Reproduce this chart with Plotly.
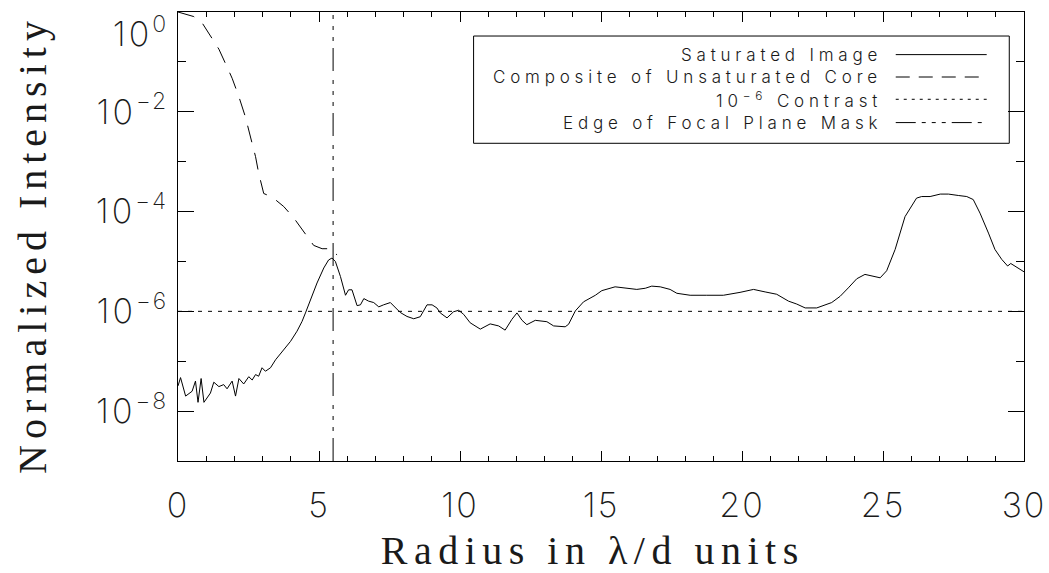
import plotly.graph_objects as go

# ---------------- data ----------------
sat_x = [0.00, 0.09, 0.27, 0.50, 0.62, 0.71, 0.82, 0.92, 1.15, 1.27, 1.45, 1.62, 1.74, 1.92,
         2.04, 2.16, 2.33, 2.51, 2.63, 2.75, 2.86, 2.98, 3.10, 3.28, 3.46, 3.75, 3.99, 4.22,
         4.40, 4.52, 4.70, 4.93, 5.17, 5.34, 5.46, 5.58, 5.76, 5.94, 6.05, 6.17, 6.35, 6.47,
         6.59, 6.76, 6.94, 7.12, 7.29, 7.53, 7.88, 8.12, 8.36, 8.59, 8.83, 9.01, 9.18, 9.30,
         9.54, 9.77, 9.95, 10.13, 10.36, 10.72, 11.07, 11.37, 11.60, 11.84, 12.02, 12.20,
         12.37, 12.67, 13.08, 13.32, 13.73, 13.85, 14.09, 14.38, 14.80, 15.03, 15.50, 15.92,
         16.27, 16.57, 16.80, 17.10, 17.45, 17.69, 18.16, 18.75, 19.34, 19.93, 20.41, 20.82,
         21.23, 21.65, 21.94, 22.24, 22.65, 23.18, 23.48, 23.77, 24.07, 24.36, 24.60, 24.90,
         25.13, 25.43, 25.78, 26.19, 26.37, 26.67, 27.03, 27.32, 27.67, 27.97, 28.20, 28.44,
         28.74, 28.97, 29.21, 29.42, 29.53, 29.74, 30.00]
sat_y = [3.2e-8, 4.7e-8, 2.0e-8, 2.5e-8, 4.0e-8, 1.5e-8, 4.5e-8, 1.5e-8, 2.3e-8, 3.8e-8,
         3.1e-8, 3.4e-8, 2.8e-8, 4.0e-8, 2.0e-8, 4.5e-8, 3.5e-8, 4.9e-8, 4.2e-8, 5.4e-8,
         5.0e-8, 7.4e-8, 6.3e-8, 7.4e-8, 1.07e-7, 1.7e-7, 2.5e-7, 4.0e-7, 6.3e-7, 9.3e-7,
         1.7e-6, 3.7e-6, 7.4e-6, 1.07e-5, 1.17e-5, 1.0e-5, 5.0e-6, 2.1e-6, 2.7e-6, 2.7e-6,
         1.3e-6, 1.35e-6, 1.8e-6, 1.6e-6, 1.5e-6, 1.23e-6, 1.35e-6, 1.5e-6, 9.5e-7, 7.9e-7,
         7.1e-7, 7.8e-7, 1.35e-6, 1.35e-6, 1.17e-6, 9.3e-7, 7.4e-7, 9.8e-7, 1.05e-6, 8.7e-7,
         5.9e-7, 4.4e-7, 5.6e-7, 5.1e-7, 4.2e-7, 6.9e-7, 9.3e-7, 6.6e-7, 5.4e-7, 6.6e-7,
         6.2e-7, 5.1e-7, 4.9e-7, 5.5e-7, 1.02e-6, 1.55e-6, 2.1e-6, 2.6e-6, 3.1e-6, 2.9e-6,
         2.75e-6, 2.9e-6, 3.2e-6, 3.1e-6, 2.75e-6, 2.3e-6, 2.1e-6, 2.1e-6, 2.1e-6, 2.4e-6,
         2.75e-6, 2.45e-6, 2.2e-6, 1.6e-6, 1.4e-6, 1.17e-6, 1.17e-6, 1.5e-6, 2.0e-6, 2.95e-6,
         4.5e-6, 5.5e-6, 5.2e-6, 4.7e-6, 6.5e-6, 1.74e-5, 7.9e-5, 1.86e-4, 2.0e-4, 2.0e-4,
         2.24e-4, 2.24e-4, 2.1e-4, 2.0e-4, 1.74e-4, 9.3e-5, 3.7e-5, 1.74e-5, 1.1e-5, 8.1e-6,
         9.1e-6, 7.6e-6, 6.2e-6]

core_x = [0.00, 0.56, 0.86, 1.21, 1.45, 1.74, 1.92, 2.16, 2.39, 2.63, 2.75, 2.86, 3.04,
          3.34, 3.75, 4.11, 4.46, 4.81, 5.11, 5.40, 5.64]
core_y = [1.0, 0.81, 0.60, 0.30, 0.18, 0.079, 0.047, 0.020, 7.9e-3, 2.3e-3, 1.26e-3,
          5.9e-4, 2.3e-4, 1.95e-4, 1.26e-4, 7.4e-5, 4.0e-5, 2.1e-5, 1.8e-5, 1.8e-5, 1.35e-5]

contrast_level = 1e-6
mask_edge = 5.5
x_range = [0, 30]
y_range = [1e-9, 1.0]

x_tickvals = [0, 5, 10, 15, 20, 25, 30]
y_tickvals = [1e0, 1e-2, 1e-4, 1e-6, 1e-8]
y_ticktext = ["0", "−2", "−4", "−6", "−8"]
y_minorvals = [1e-1, 1e-3, 1e-5, 1e-7]

legend_labels = ["Saturated Image", "Composite of Unsaturated Core",
                 "10<sup>−6</sup> Contrast", "Edge of Focal Plane Mask"]
x_title = "Radius in λ/d units"
y_title = "Normalized Intensity"

# ---------------- style ----------------
SANS = "Inter"
SERIF = "Liberation Serif"
TXT = "#1a1a1a"
DASH_CORE = "17px,11px"
DOT = "4px,6px"
DASHDOT = "23px,7px,4px,7px,4px,7px,4px,9px"

fig = go.Figure()
fig.add_trace(go.Scatter(x=sat_x, y=sat_y, mode="lines", name=legend_labels[0],
                         line=dict(color="black", width=1)))
fig.add_trace(go.Scatter(x=core_x, y=core_y, mode="lines", name=legend_labels[1],
                         line=dict(color="black", width=1, dash=DASH_CORE)))
fig.add_trace(go.Scatter(x=x_range, y=[contrast_level, contrast_level], mode="lines",
                         name=legend_labels[2], line=dict(color="black", width=1, dash=DOT)))
fig.add_trace(go.Scatter(x=[mask_edge, mask_edge], y=y_range, mode="lines",
                         name=legend_labels[3], line=dict(color="black", width=1, dash=DASHDOT)))

ytext = ['<span style="letter-spacing:3px">10</span><sup><span style="font-size:23px;letter-spacing:2px">%s</span></sup>' % t
         for t in y_ticktext]
# the top label sits a little below its tick (as in the original) so it is not clipped
ytext[0] = "\u00a0<br>" + ytext[0]
xtext = ['<span style="letter-spacing:2px">%d</span>' % v for v in x_tickvals]

fig.update_xaxes(range=x_range, tickvals=x_tickvals, ticktext=xtext, ticks="inside", ticklen=10,
                 tickcolor="black", showline=True, linecolor="black", linewidth=1,
                 mirror="ticks", showgrid=False, zeroline=False, automargin=False,
                 minor=dict(dtick=1, ticks="inside", ticklen=5, tickcolor="black"),
                 tickfont=dict(family=SANS, size=34, color=TXT, weight=200),
                 ticklabelstandoff=14, ticklabeloverflow="allow",
                 title=dict(text='<span style="letter-spacing:6.5px">%s\u00a0</span>' % x_title,
                            font=dict(family=SERIF, size=40, color=TXT), standoff=23))
fig.update_yaxes(type="log", range=[-9, 0], tickvals=y_tickvals, ticktext=ytext,
                 ticks="inside", ticklen=16, tickcolor="black", showline=True,
                 linecolor="black", linewidth=1, mirror="ticks", showgrid=False,
                 zeroline=False, automargin=False,
                 minor=dict(tickvals=y_minorvals, ticks="inside", ticklen=8, tickcolor="black"),
                 tickfont=dict(family=SANS, size=34, color=TXT, weight=200),
                 ticklabelstandoff=2, ticklabeloverflow="allow",
                 title=dict(text='<span style="letter-spacing:6px">%s\u00a0</span>' % y_title,
                            font=dict(family=SERIF, size=40, color=TXT), standoff=36))

# manual legend (text right-aligned, line sample on the right, as in the original)
row_y = [0.9051, 0.8552, 0.8056, 0.7537]
dashes = ["solid", "14px,9px", "3px,5px", "20px,6px,4px,6px,4px,6px,4px,6px"]
anns = []
shapes = [dict(type="rect", xref="paper", yref="paper", x0=0.3494, x1=0.9826,
               y0=0.7076, y1=0.9465, line=dict(color="black", width=1))]
for lab, yy, d in zip(legend_labels, row_y, dashes):
    anns.append(dict(xref="paper", yref="paper", x=0.8345, y=yy, xanchor="right",
                     yanchor="middle", showarrow=False, align="right",
                     text='<span style="letter-spacing:4.8px">%s</span>' % lab,
                     font=dict(family=SANS, size=17, color=TXT, weight=300)))
    shapes.append(dict(type="line", xref="paper", yref="paper", x0=0.8484, x1=0.9559,
                       y0=yy, y1=yy, line=dict(color="black", width=1, dash=d)))

fig.update_layout(width=1049, height=573, margin=dict(l=178, r=25, t=12, b=112),
                  plot_bgcolor="white", paper_bgcolor="white", showlegend=False,
                  annotations=anns, shapes=shapes)

fig.write_html("out.html")
